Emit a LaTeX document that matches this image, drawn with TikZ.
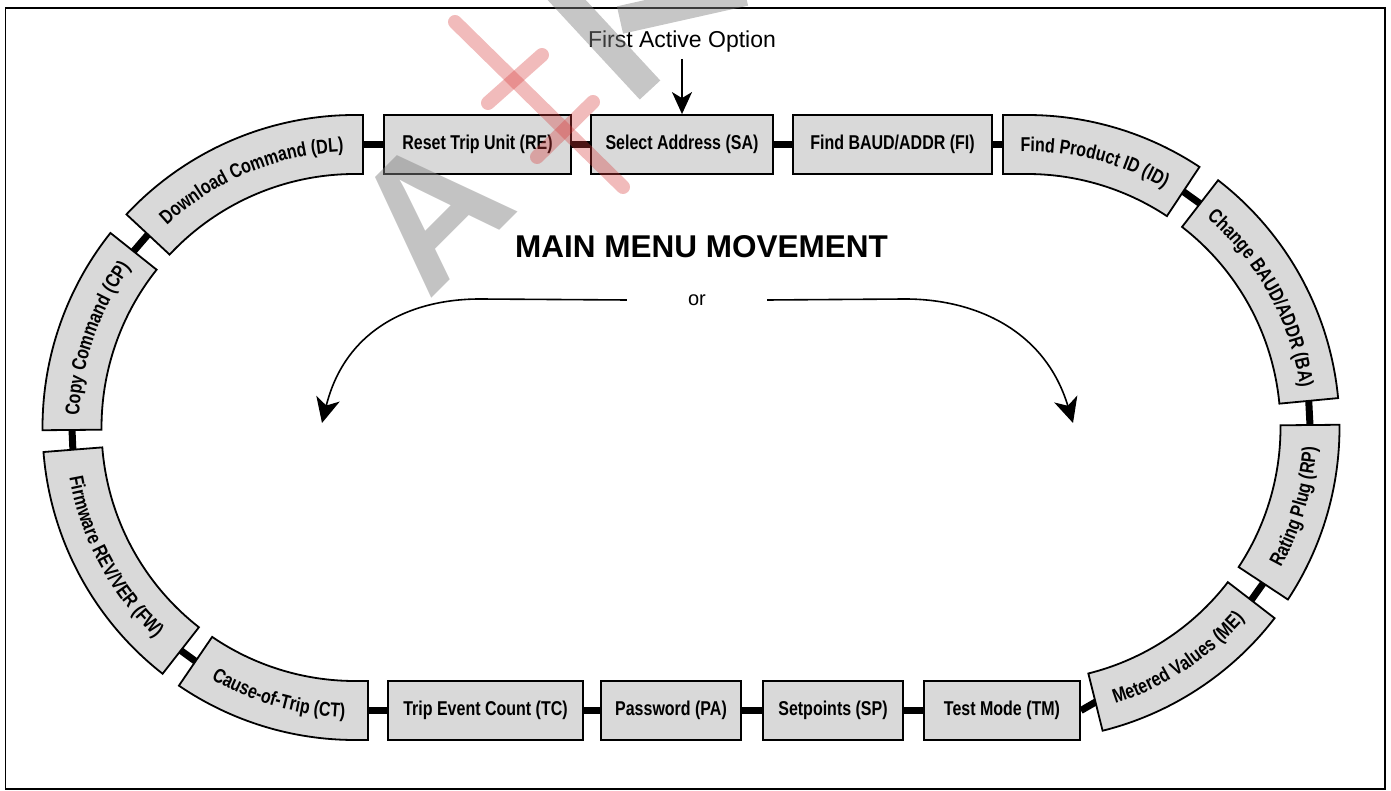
\documentclass[tikz,border=0pt]{standalone}
\usepackage{fontspec}
\setmainfont{Liberation Sans}
\newfontfamily\condb[FakeStretch=0.8]{Liberation Sans}
\usetikzlibrary{calc,arrows.meta,decorations.text}
\newcommand\boxfnt{\condb\bfseries\fontsize{20}{24}\selectfont}
\pgfdeclarelayer{bg}
\pgfsetlayers{bg,main}
\begin{document}
\begin{tikzpicture}[x=1pt,y=1pt,
  box/.style={draw=black,line width=1.8pt,fill=black!15},
  sbox/.style={box,minimum height=59pt,inner sep=0pt,font=\boxfnt},
  conn/.style={line width=7pt,draw=black},
  ctext/.style={decorate,decoration={text along path,text align=center,text={|\boxfnt|#1}}},
  marrow/.style={line width=1.6pt,-{Stealth[length=25pt,width=24pt,inset=7pt]}},
  wmgray/.style={draw=black!50,draw opacity=0.45,line width=28pt},
  wmred/.style={draw={rgb,255:red,215;green,60;blue,60},draw opacity=0.35,line width=14pt,line cap=round}
]
\useasboundingbox (0,0) rectangle (1391,790);
\draw[line width=1.5pt] (5.5,1) rectangle (1385,782);

\def\rOut{312.5pt}
\def\rIn{253.5pt}
\def\rMid{283pt}
\def\rTo{276pt}
\def\rTi{290pt}
\coordinate (L) at (355,362.5);
\coordinate (R) at (1027,362.5);

% straight boxes
\node[sbox,minimum width=187pt] (RE) at (477.5,645.5) {Reset Trip Unit (RE)};
\node[sbox,minimum width=182pt] (SA) at (682,645.5) {Select Address (SA)};
\node[sbox,minimum width=199pt] (FI) at (892.5,645.5) {Find BAUD/ADDR (FI)};
\node[sbox,minimum width=195pt] (TC) at (485.5,79.5) {Trip Event Count (TC)};
\node[sbox,minimum width=140pt] (PA) at (671,79.5) {Password (PA)};
\node[sbox,minimum width=140pt] (SP) at (833,79.5) {Setpoints (SP)};
\node[sbox,minimum width=156pt] (TM) at (1002,79.5) {Test Mode (TM)};

% end points of curved boxes
\coordinate (DLa) at ($(L)+(137:\rMid)$);
\coordinate (DLb) at (363,645.5);
\coordinate (CPa) at ($(L)+(141.5:\rMid)$);
\coordinate (CPb) at ($(L)+(180.5:\rMid)$);
\coordinate (FWa) at ($(L)+(184.5:\rMid)$);
\coordinate (FWb) at ($(L)+(232:\rMid)$);
\coordinate (CTa) at ($(L)+(235.7:\rMid)$);
\coordinate (CTb) at (368,79.5);
\coordinate (IDb) at (1003,645.5);
\coordinate (IDa) at ($(R)+(56.5:\rMid)$);
\coordinate (BAb) at ($(R)+(52.3:\rMid)$);
\coordinate (BAa) at ($(R)+(5.4:\rMid)$);
\coordinate (RPb) at ($(R)+(0.5:\rMid)$);
\coordinate (RPa) at ($(R)+(-33.4:\rMid)$);
\coordinate (MEb) at ($(R)+(-37.6:\rMid)$);
\coordinate (MEa) at ($(R)+(-76:\rMid)$);

% connectors
\begin{pgfonlayer}{bg}
\draw[conn] (DLb) -- (RE.west);
\draw[conn] (RE.east) -- (SA.west);
\draw[conn] (SA.east) -- (FI.west);
\draw[conn] (FI.east) -- (IDb);
\draw[conn] (IDa) -- (BAb);
\draw[conn] (BAa) -- (RPb);
\draw[conn] (RPa) -- (MEb);
\draw[conn] (MEa) -- (TM.east);
\draw[conn] (TM.west) -- (SP.east);
\draw[conn] (SP.west) -- (PA.east);
\draw[conn] (PA.west) -- (TC.east);
\draw[conn] (TC.west) -- (CTb);
\draw[conn] (CTa) -- (FWb);
\draw[conn] (FWa) -- (CPb);
\draw[conn] (CPa) -- (DLa);
\end{pgfonlayer}

% curved boxes, left
\draw[box] ($(L)+(137:\rOut)$) arc[start angle=137,end angle=90,radius=\rOut] -- (363,675) -- (363,616) -- ($(L)+(90:\rIn)$) arc[start angle=90,end angle=137,radius=\rIn] -- cycle;
\path[ctext={Download Command (DL)}] ($(L)+(137:\rTo)$) arc[start angle=137,end angle=90,radius=\rTo] -- (363,638.5);

\draw[box] ($(L)+(141.5:\rOut)$) arc[start angle=141.5,end angle=180.5,radius=\rOut] -- ($(L)+(180.5:\rIn)$) arc[start angle=180.5,end angle=141.5,radius=\rIn] -- cycle;
\path[ctext={Copy Command (CP)}] ($(L)+(180.5:\rTo)$) arc[start angle=180.5,end angle=141.5,radius=\rTo];

\draw[box] ($(L)+(184.5:\rOut)$) arc[start angle=184.5,end angle=232,radius=\rOut] -- ($(L)+(232:\rIn)$) arc[start angle=232,end angle=184.5,radius=\rIn] -- cycle;
\path[ctext={Firmware REV/VER (FW)}] ($(L)+(184.5:\rTi)$) arc[start angle=184.5,end angle=232,radius=\rTi];

\draw[box] ($(L)+(235.7:\rOut)$) arc[start angle=235.7,end angle=270,radius=\rOut] -- (368,50) -- (368,109) -- ($(L)+(270:\rIn)$) arc[start angle=270,end angle=235.7,radius=\rIn] -- cycle;
\path[ctext={Cause-of-Trip (CT)}] ($(L)+(235.7:\rTi)$) arc[start angle=235.7,end angle=270,radius=\rTi] -- (368,72.5);

% curved boxes, right
\draw[box] (1003,675) -- (1027,675) arc[start angle=90,end angle=56.5,radius=\rOut] -- ($(R)+(56.5:\rIn)$) arc[start angle=56.5,end angle=90,radius=\rIn] -- (1003,616) -- cycle;
\path[ctext={Find Product ID (ID)}] (1003,638.5) -- (1027,638.5) arc[start angle=90,end angle=56.5,radius=\rTo];

\draw[box] ($(R)+(52.3:\rOut)$) arc[start angle=52.3,end angle=5.4,radius=\rOut] -- ($(R)+(5.4:\rIn)$) arc[start angle=5.4,end angle=52.3,radius=\rIn] -- cycle;
\path[ctext={Change BAUD/ADDR (BA)}] ($(R)+(52.3:\rTo)$) arc[start angle=52.3,end angle=5.4,radius=\rTo];

\draw[box] ($(R)+(0.5:\rOut)$) arc[start angle=0.5,end angle=-33.4,radius=\rOut] -- ($(R)+(-33.4:\rIn)$) arc[start angle=-33.4,end angle=0.5,radius=\rIn] -- cycle;
\path[ctext={Rating Plug (RP)}] ($(R)+(-33.4:\rTi)$) arc[start angle=-33.4,end angle=0.5,radius=\rTi];

\draw[box] ($(R)+(-37.6:\rOut)$) arc[start angle=-37.6,end angle=-76,radius=\rOut] -- ($(R)+(-76:\rIn)$) arc[start angle=-76,end angle=-37.6,radius=\rIn] -- cycle;
\path[ctext={Metered Values (ME)}] ($(R)+(-76:\rTi)$) arc[start angle=-76,end angle=-37.6,radius=\rTi];

% centre texts and arrows
\node[font=\fontsize{23}{27}\selectfont,inner sep=0pt] (fao) at (682,748) {First Active Option};
\draw[line width=1.6pt,-{Stealth[length=22pt,width=20pt,inset=6pt]}] ([yshift=-6pt]fao.south) -- (fao.south |- SA.north);
\node[font=\bfseries\fontsize{31.5}{36}\selectfont,inner sep=0pt] (title) at (701.5,543) {MAIN MENU MOVEMENT};
\node[font=\fontsize{20}{24}\selectfont,minimum width=140pt,inner sep=0pt] (or) at (697,490) {or};
\draw[marrow] (or.west) -- (480,491) .. controls (410,491) and (345,460) .. (322,367);
\draw[marrow] (or.east) -- (905,491) .. controls (975,491) and (1045,460) .. (1073,367);

% watermark
\node[rotate=45,inner sep=0pt,font=\bfseries\fontsize{182}{190}\selectfont,text=black!50,text opacity=0.47] (wmA) at (431,579) {A};
\draw[wmgray] (550,808) -- (650,700);
\draw[wmgray] (620,770) -- (745,798);
\draw[wmred] (455,768) -- (623,603);
\draw[wmred] (488,687) -- (542,735);
\draw[wmred] (537,633) -- (593,688);
\end{tikzpicture}
\end{document}
